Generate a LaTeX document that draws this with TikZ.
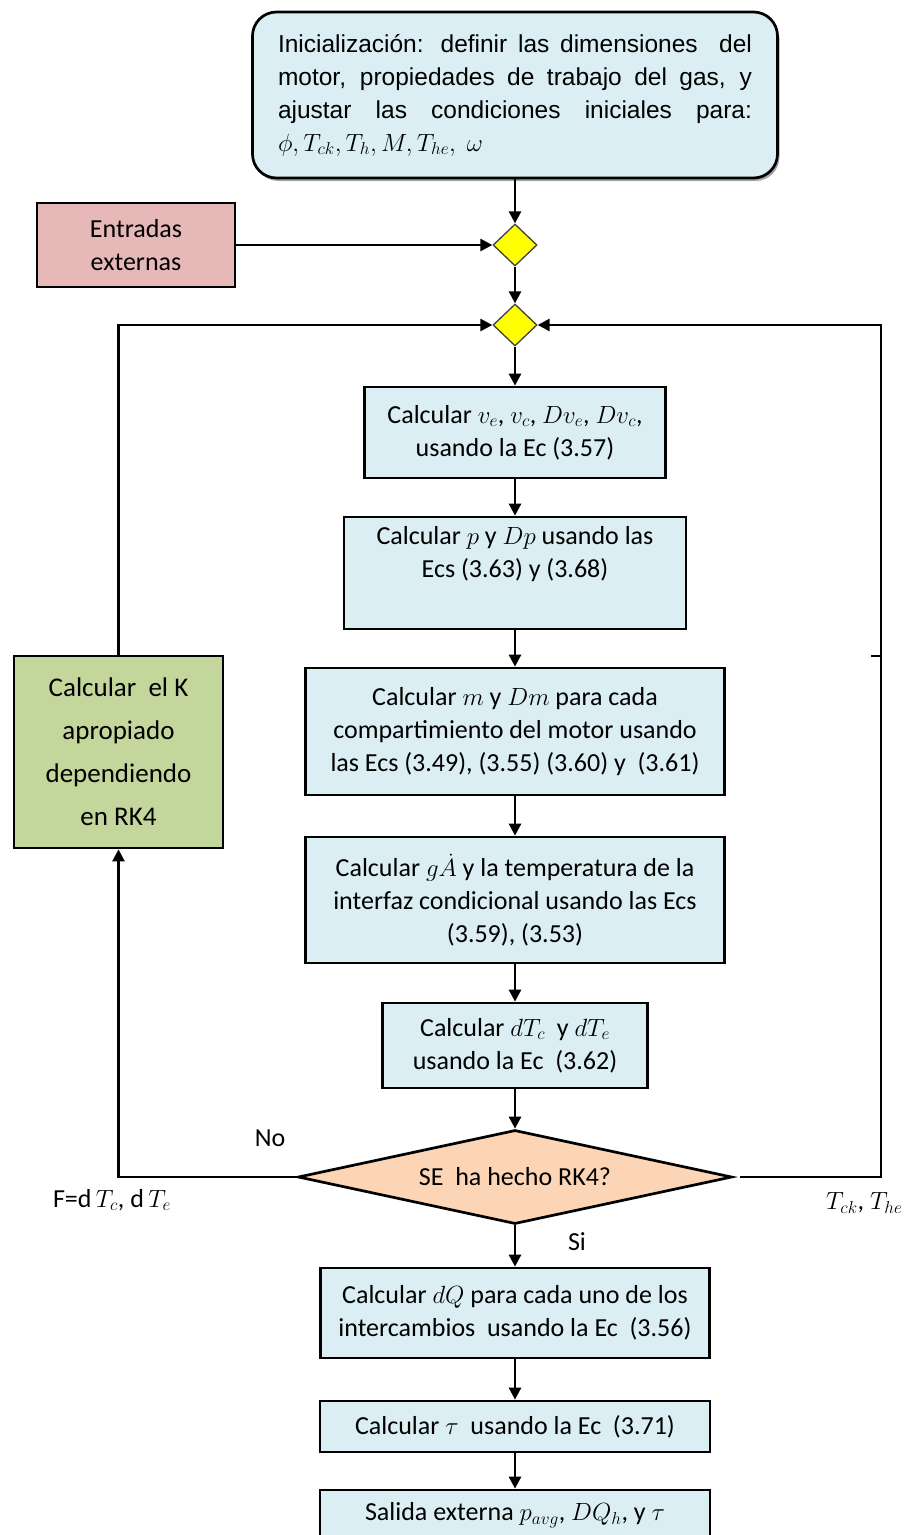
\documentclass[tikz,border=0pt]{standalone}
\usepackage{fontspec}
\setmainfont{Carlito}
\newfontfamily\arialf{Liberation Sans}
\usetikzlibrary{arrows.meta,shapes.geometric,shadows}
\definecolor{lblue}{HTML}{DBEEF3}
\definecolor{lpink}{HTML}{E6B8B7}
\definecolor{lgreen}{HTML}{C3D69B}
\definecolor{peach}{HTML}{FBD5B5}
\definecolor{dyellow}{HTML}{FFFF00}
\tikzset{
  base/.style={font=\fontsize{26}{33}\selectfont, inner sep=0pt, align=center},
  pbox/.style={base, rectangle, draw, line width=2.7pt, fill=lblue},
  junc/.style={diamond, draw=black!75, line width=1.3pt, fill=dyellow, minimum width=44pt, minimum height=42pt, inner sep=0pt},
  arr/.style={line width=2.6pt, -{Triangle[length=12pt,width=12pt]}},
  ln/.style={line width=2.6pt},
  lbl/.style={base}
}
\begin{document}
\begin{tikzpicture}[x=1pt,y=-1pt]
\useasboundingbox (0,0) rectangle (905,1535);
\clip (0,0) rectangle (905,1535);

\node[base, draw, line width=2.7pt, fill=lblue, rounded corners=24pt,
  minimum width=525pt, minimum height=166pt,
  drop shadow={shadow xshift=2pt, shadow yshift=-3pt, fill=gray!70, opacity=1}] (init) at (515,95)
  {\begin{minipage}{474pt}\arialf\fontsize{24.5}{33}\selectfont
   Inicialización: definir las dimensiones\ \ del\linebreak
   motor, propiedades de trabajo del gas, y\linebreak
   ajustar las condiciones iniciales para:\linebreak
   $\phi, T_{ck}, T_h, M, T_{he},\ \omega$\end{minipage}};

\node[base, rectangle, draw, line width=2.7pt, fill=lpink, minimum width=198pt, minimum height=84pt] (ent) at (136,245) {Entradas\\externas};

\node[junc] (d1) at (515,245) {};
\node[junc] (d2) at (515,325) {};

\node[pbox, minimum width=301pt, minimum height=91pt] (b1) at (515,432.5)
  {Calcular $v_e$, $v_c$, $Dv_e$, $Dv_c$,\\usando la Ec (3.57)};
\node[pbox, minimum width=342pt, minimum height=112pt] (b2) at (515,573)
  {Calcular $p$ y $Dp$ usando las\\Ecs (3.63) y (3.68)\\\strut};
\node[pbox, minimum width=419pt, minimum height=127pt] (b3) at (515,731.5)
  {Calcular $m$ y $Dm$ para cada\\compartimiento del motor usando\\las Ecs (3.49), (3.55) (3.60) y\ \ (3.61)};
\node[pbox, minimum width=419pt, minimum height=126pt] (b4) at (515,900)
  {Calcular $g\dot{A}$ y la temperatura de la\\interfaz condicional usando las Ecs\\(3.59), (3.53)};
\node[pbox, minimum width=265pt, minimum height=85pt] (b5) at (515,1045.5)
  {Calcular $dT_c$\ \ y $dT_e$\\usando la Ec\ \ (3.62)};

\node[base, diamond, aspect=4.6, draw, line width=2.7pt, fill=peach, minimum width=434pt, minimum height=94pt] (dec) at (515,1177)
  {SE\ \ ha hecho RK4?};

\node[pbox, minimum width=389pt, minimum height=90pt] (b6) at (515,1313)
  {Calcular $dQ$ para cada uno de los\\intercambios\ \ usando la Ec\ \ (3.56)};
\node[pbox, minimum width=390pt, minimum height=51pt] (b7) at (515,1426.5)
  {Calcular $\tau$\ \ usando la Ec\ \ (3.71)};
\node[pbox, minimum width=390pt, minimum height=50pt] (b8) at (515,1515)
  {Salida externa $p_{avg}$, $DQ_h$, y $\tau$};

\node[base, rectangle, draw, line width=2.7pt, fill=lgreen, minimum width=209pt, minimum height=192pt,
  font=\fontsize{27}{43}\selectfont] (kbox) at (118.5,752)
  {Calcular\ \ el K\\apropiado\\dependiendo\\en RK4};

\node[lbl] (no) at (270,1138) {No};
\node[lbl] (si) at (577,1242) {Si};
\node[lbl] (fl) at (112,1200) {F=d\,$T_c$,\ d\,$T_e$};
\node[lbl, anchor=west] (tl) at (826,1203) {$T_{ck}$, $T_{he}$};

\coordinate (rs) at ([xshift=7pt]dec.east);
\coordinate (rc) at (881,1177);
\coordinate (tk1) at (871,656);
\coordinate (tk2) at (881,656);

\draw[arr] (init.south) -- (d1.north);
\draw[arr] (ent.east) -- (d1.west);
\draw[arr] (d1.south) -- (d2.north);
\draw[arr] (d2.south) -- (b1.north);
\draw[arr] (b1.south) -- (b2.north);
\draw[arr] (b2.south) -- (b3.north);
\draw[arr] (b3.south) -- (b4.north);
\draw[arr] (b4.south) -- (b5.north);
\draw[arr] (b5.south) -- (dec.north);
\draw[arr] (dec.south) -- (b6.north);
\draw[arr] (b6.south) -- (b7.north);
\draw[arr] (b7.south) -- (b8.north);
\draw[arr] (kbox.north) |- (d2.west);
\draw[arr] (dec.west) -| (kbox.south);
\draw[arr] (rs) -- (rc) |- (d2.east);
\draw[ln] (tk1) -- (tk2);
\end{tikzpicture}
\end{document}
